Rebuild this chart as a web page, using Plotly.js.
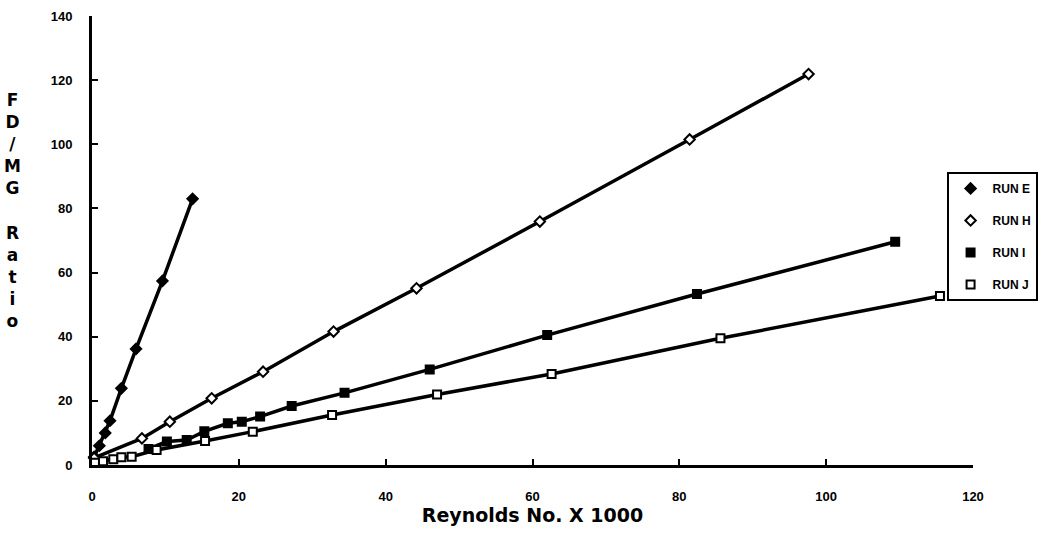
<!DOCTYPE html>
<html>
<head>
<meta charset="utf-8">
<script src="https://cdn.plot.ly/plotly-3.0.1.min.js"></script>
<style>html,body{margin:0;padding:0;background:#fff;}#chart{width:1045px;height:537px;}</style>
</head>
<body>
<div id="chart"></div>
<script>
// Reynolds No. x 1000 (x) vs FD/MG ratio (y)
var runE_x = [0.3, 1.0, 1.8, 2.45, 4.0, 6.0, 9.6, 13.7];
var runE_y = [2.5, 6.0, 10.0, 13.8, 23.9, 36.2, 57.4, 83.0];

var runH_x = [0.3, 6.8, 10.6, 16.3, 23.3, 32.9, 44.2, 61.0, 81.4, 97.6];
var runH_y = [2.2, 8.3, 13.5, 20.8, 29.1, 41.6, 55.1, 75.9, 101.5, 121.9];

var runI_x = [7.7, 10.2, 12.9, 15.3, 18.5, 20.4, 22.9, 27.2, 34.4, 46.0, 62.0, 82.4, 109.4];
var runI_y = [5.0, 7.3, 7.8, 10.5, 13.0, 13.5, 15.1, 18.4, 22.5, 29.8, 40.5, 53.3, 69.6];

var runJ_x = [0.4, 1.5, 2.9, 4.0, 5.4, 8.8, 15.4, 21.9, 32.7, 47.0, 62.6, 85.6, 115.5];
var runJ_y = [0.7, 1.2, 1.8, 2.4, 2.6, 4.7, 7.5, 10.4, 15.6, 22.0, 28.4, 39.5, 52.7];

var seriesNames = ["RUN E", "RUN H", "RUN I", "RUN J"];
var xTickVals = [0, 20, 40, 60, 80, 100, 120];
var yTickVals = [0, 20, 40, 60, 80, 100, 120, 140];

var series = [
  {x: runE_x, y: runE_y, name: seriesNames[0], symbol: "diamond", fill: "black"},
  {x: runH_x, y: runH_y, name: seriesNames[1], symbol: "diamond", fill: "white"},
  {x: runI_x, y: runI_y, name: seriesNames[2], symbol: "square", fill: "black"},
  {x: runJ_x, y: runJ_y, name: seriesNames[3], symbol: "square", fill: "white"}
];

var traces = [];
series.forEach(function (s, i) {
  traces.push({
    x: s.x, y: s.y, type: "scatter", mode: "lines",
    line: {color: "black", width: 3.5},
    showlegend: false, hoverinfo: "skip", cliponaxis: false
  });
});
series.forEach(function (s, i) {
  traces.push({
    x: s.x, y: s.y, type: "scatter", mode: "markers", name: s.name,
    legendgroup: "g" + i,
    marker: {symbol: s.symbol, size: 8, color: s.fill, line: {color: "black", width: 2}},
    cliponaxis: false
  });
});

var tickFont = {family: "Liberation Sans, Arial, sans-serif", size: 13, color: "black", weight: "bold"};

var layout = {
  width: 1045, height: 537,
  margin: {l: 92, r: 72, t: 16, b: 72, autoexpand: false},
  paper_bgcolor: "white", plot_bgcolor: "white",
  showlegend: true,
  xaxis: {
    range: [0, 120], tickvals: xTickVals, ticktext: xTickVals.map(String),
    showgrid: false, zeroline: false,
    showline: true, linecolor: "black", linewidth: 3,
    ticks: "inside", ticklen: 6, tickwidth: 2, tickcolor: "black",
    tickfont: tickFont, ticklabelstandoff: 17,
    title: {text: "Reynolds No. X 1000", standoff: 6,
      font: {family: "DejaVu Sans, Verdana, sans-serif", size: 19, color: "black", weight: "bold"}}
  },
  yaxis: {
    range: [0, 140], tickvals: yTickVals, ticktext: yTickVals.map(String),
    showgrid: false, zeroline: false,
    showline: true, linecolor: "black", linewidth: 3,
    ticks: "inside", ticklen: 6, tickwidth: 2, tickcolor: "black",
    tickfont: tickFont, ticklabelstandoff: 14
  },
  legend: {
    x: 0.97, xanchor: "left", y: 0.6526, yanchor: "top",
    bgcolor: "white", bordercolor: "black", borderwidth: 2,
    traceorder: "grouped", tracegroupgap: 13,
    font: {family: "Liberation Sans Narrow, Liberation Sans, Arial, sans-serif", size: 12, color: "black", weight: "bold"},
    itemwidth: 34
  },
  annotations: [{
    text: "F<br>D<br>/<br>M<br>G<br> <br>R<br>a<br>t<br>i<br>o",
    xref: "paper", yref: "paper",
    x: -0.0908, y: 0.566, xanchor: "center", yanchor: "middle",
    showarrow: false, align: "center",
    font: {family: "DejaVu Sans, Verdana, sans-serif", size: 17, color: "black", weight: "bold"}
  }]
};

Plotly.newPlot("chart", traces, layout, {displayModeBar: false, staticPlot: true});
</script>
</body>
</html>
